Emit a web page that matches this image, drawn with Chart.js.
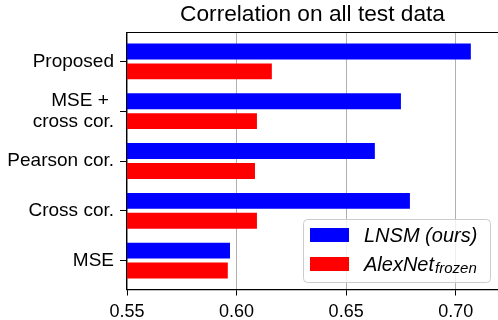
<!DOCTYPE html>
<html>
<head>
<meta charset="utf-8">
<script src="https://cdn.jsdelivr.net/npm/chart.js@4.4.0/dist/chart.umd.min.js"></script>
<style>
    body { margin: 0; background: #fff; }
    canvas { display: block; }
</style>
</head>
<body>
<canvas id="corrChart" width="498" height="320"></canvas>
<script>
// Categories, top to bottom
const categories = ['Proposed', ['MSE + ', 'cross cor.'], 'Pearson cor.', 'Cross cor.', 'MSE'];
// LNSM (ours)
const lnsmValues = [0.7069, 0.6750, 0.6631, 0.6791, 0.5970];
// AlexNet frozen
const alexnetValues = [0.6161, 0.6093, 0.6084, 0.6093, 0.5960];
const xTicks = [0.55, 0.60, 0.65, 0.70];
const chartTitle = 'Correlation on all test data';

const AXIS_COLOR = '#000';

/**
 * Draws the title over the plot area, the top spine and the legend box
 * (with the subscript) on top of the chart.
 */
const frameAndLegend = {
    id: 'frameAndLegend',
    afterDraw(chart) {
        const { ctx, chartArea } = chart;
        ctx.save();

        // title, centred on the plot area
        ctx.fillStyle = '#000';
        ctx.font = '22.7px "Liberation Sans"';
        ctx.textAlign = 'center';
        ctx.textBaseline = 'alphabetic';
        ctx.fillText(chartTitle, (chartArea.left + chartArea.right) / 2, 20.5);

        // top spine
        ctx.strokeStyle = AXIS_COLOR;
        ctx.lineWidth = 1.2;
        ctx.beginPath();
        ctx.moveTo(chartArea.left, chartArea.top);
        ctx.lineTo(chartArea.right, chartArea.top);
        ctx.stroke();

        // legend box
        const boxW = 187, boxH = 63;
        const bx = chartArea.right - 8 - boxW;
        const by = chartArea.bottom - 7.5 - boxH;
        ctx.beginPath();
        ctx.roundRect(bx + 0.5, by + 0.5, boxW, boxH, 4);
        ctx.fillStyle = 'rgba(255,255,255,0.8)';
        ctx.fill();
        ctx.strokeStyle = '#cccccc';
        ctx.lineWidth = 1;
        ctx.stroke();

        // entries
        ctx.fillStyle = 'blue';
        ctx.fillRect(bx + 7, by + 9, 39, 14);
        ctx.fillStyle = 'red';
        ctx.fillRect(bx + 7, by + 38, 39, 14);

        ctx.fillStyle = '#000';
        ctx.textAlign = 'left';
        ctx.font = 'italic 20px "Liberation Sans"';
        ctx.fillText('LNSM (ours)', bx + 61, by + 22.7);
        ctx.fillText('AlexNet', bx + 61, by + 52);
        const w = ctx.measureText('AlexNet').width;
        ctx.font = 'italic 15px "Liberation Sans"';
        ctx.fillText('frozen', bx + 61 + w + 1, by + 54);

        ctx.restore();
    }
};

function init() {
    Chart.defaults.font.family = '"Liberation Sans", Arial, sans-serif';
    Chart.defaults.color = '#000';

    const ctx = document.getElementById('corrChart');
    new Chart(ctx, {
        type: 'bar',
        data: {
            datasets: [
                {
                    label: 'LNSM (ours)',
                    data: lnsmValues.map((v, i) => ({ x: v, y: i })),
                    backgroundColor: 'blue'
                },
                {
                    label: 'AlexNet frozen',
                    data: alexnetValues.map((v, i) => ({ x: v, y: i })),
                    backgroundColor: 'red'
                }
            ]
        },
        options: {
            indexAxis: 'y',
            responsive: false,
            animation: false,
            devicePixelRatio: 1,
            categoryPercentage: 0.8,
            barPercentage: 0.8,
            layout: { padding: { left: 0, right: 0, top: 32.5, bottom: 0 } },
            plugins: {
                legend: { display: false },
                tooltip: { enabled: false },
                title: { display: false }
            },
            scales: {
                x: {
                    type: 'linear',
                    min: 0.55,
                    max: 0.7193,
                    afterBuildTicks: (axis) => {
                        axis.ticks = xTicks.map(v => ({ value: v }));
                    },
                    afterFit: (axis) => { axis.height = 30.5; },
                    ticks: {
                        font: { size: 18 },
                        padding: 6,
                        maxRotation: 0,
                        callback: (v) => v.toFixed(2)
                    },
                    grid: {
                        color: '#b0b0b0',
                        lineWidth: 1,
                        tickColor: AXIS_COLOR,
                        tickLength: 6
                    },
                    border: { display: true, color: AXIS_COLOR, width: 1.2 }
                },
                y: {
                    type: 'linear',
                    reverse: true,
                    offset: false,
                    min: -0.58,
                    max: 4.58,
                    afterBuildTicks: (axis) => {
                        axis.ticks = categories.map((c, i) => ({ value: i }));
                    },
                    afterFit: (axis) => { axis.width = 127; },
                    ticks: {
                        font: { size: 19, lineHeight: 1.1 },
                        padding: 6,
                        callback: (v) => categories[v]
                    },
                    grid: {
                        offset: false,
                        drawOnChartArea: false,
                        tickColor: AXIS_COLOR,
                        tickLength: 7
                    },
                    border: { display: true, color: AXIS_COLOR, width: 1.2 }
                }
            }
        },
        plugins: [frameAndLegend]
    });
}

document.addEventListener('DOMContentLoaded', init);
</script>
</body>
</html>
